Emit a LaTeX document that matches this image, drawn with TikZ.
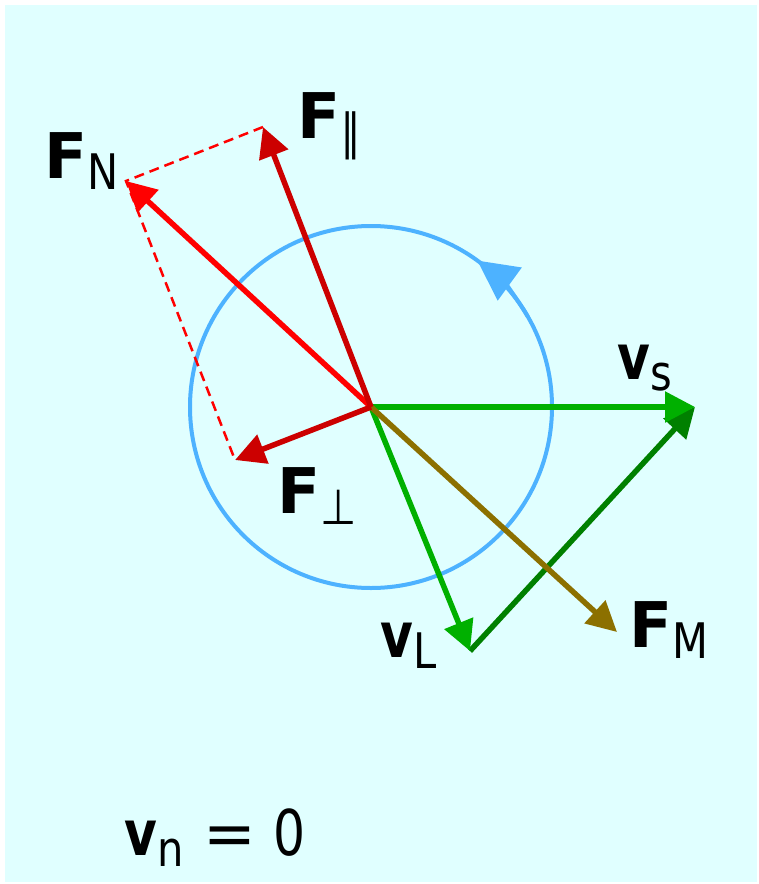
\documentclass[tikz,border=0pt]{standalone}
\usepackage{fontspec}
\setmainfont{DejaVu Sans}
\usetikzlibrary{arrows.meta}
\definecolor{bgcyan}{RGB}{224,255,255}
\definecolor{circblue}{RGB}{77,178,255}
\definecolor{vgreen}{RGB}{0,176,0}
\definecolor{dgreen}{RGB}{0,128,0}
\definecolor{fred}{RGB}{204,0,0}
\definecolor{nred}{RGB}{255,0,0}
\definecolor{folive}{RGB}{140,112,0}
% 主符号与下标（横向略压缩）
\newcommand{\narrow}[2]{\scalebox{#1}[1]{#2}}
\newcommand{\vecsub}[2]{{\bfseries #1}\raisebox{-11pt}{\fontsize{49}{49}\selectfont\narrow{0.85}{#2}}}
\newcommand{\boldv}{\narrow{0.8}{v}}
\tikzset{
  vecline/.style={line width=5.5pt, -{Triangle[length=30pt,width=30pt]}},
  veclab/.style={anchor=base west, inner sep=0pt, font=\fontsize{63}{63}\selectfont},
}

\begin{document}
\begin{tikzpicture}[x=1pt,y=-1pt]
    % 背景
    \fill[white] (0,0) rectangle (759,884);
    \fill[bgcyan] (5,5) rectangle (757,882);
    \useasboundingbox (0,0) rectangle (759,884);

    % 端点
    \coordinate (O) at (371,407);
    \coordinate (vs) at (695,407);
    \coordinate (vL) at (470,651);
    \coordinate (FM) at (617,632);
    \coordinate (Fpar) at (263,127);
    \coordinate (Fperp) at (235,460);
    \coordinate (FN) at (126,181);

    % 圆与旋转方向
    \draw[circblue, line width=4pt] (O) circle[radius=181];
    \draw[circblue, line width=4pt, -{Triangle[length=40pt,width=40pt]}]
        ([shift={(-30:181)}]O) arc[start angle=-30, end angle=-54, radius=181];

    % 分解虚线
    \draw[nred, line width=2.5pt, dash pattern=on 10pt off 6pt] (Fpar) -- (FN) -- (Fperp);

    % 速度
    \draw[vecline, dgreen] (vL) -- (vs);
    \draw[vecline, vgreen] (O) -- (vs);
    \draw[vecline, vgreen] (O) -- (vL);

    % 力
    \draw[vecline, folive] (O) -- (FM);
    \draw[vecline, nred] (O) -- (FN);
    \draw[vecline, fred] (O) -- (Fpar);
    \draw[vecline, fred] (O) -- (Fperp);

    % 标签
    \node[veclab] (FNlab) at (44,178) {\vecsub{F}{N}};
    \node[veclab] (Fparlab) at (297,138) {\vecsub{F}{∥}};
    \node[veclab] (Fperplab) at (277,513) {\vecsub{F}{⊥}};
    \node[veclab] (vslab) at (617,379) {\vecsub{\boldv}{s}};
    \node[veclab] (vLlab) at (380,657) {\vecsub{\boldv}{L}};
    \node[veclab] (FMlab) at (629,647) {\vecsub{F}{M}};
    \node[veclab] (vnlab) at (124,855) {\vecsub{\boldv}{n}\hspace{20pt}=\hspace{17pt}\narrow{0.8}{0}};
\end{tikzpicture}
\end{document}
